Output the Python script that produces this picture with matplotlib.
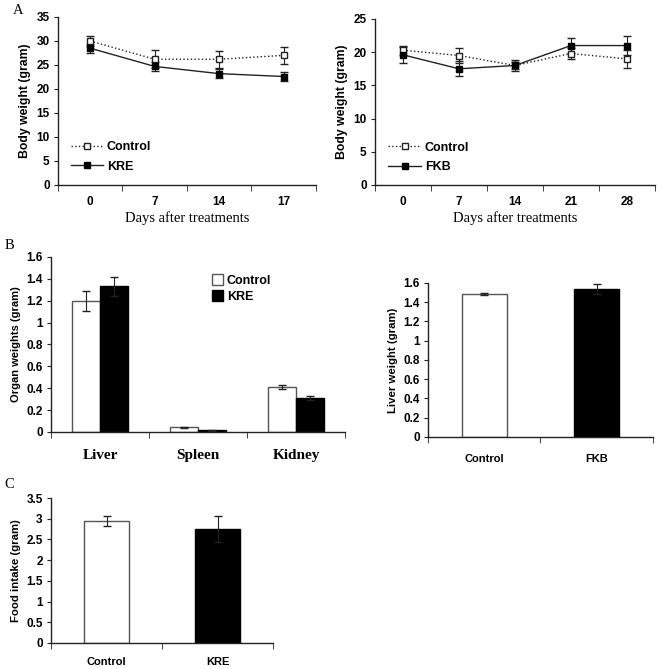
import matplotlib
matplotlib.use('Agg')
import matplotlib.pyplot as plt
from matplotlib.lines import Line2D
import numpy as np

# panel A, left: KRE study
days_kre = ['0', '7', '14', '17']
ctrl_kre_bw = [30.0, 26.2, 26.2, 27.0]
ctrl_kre_err = [1.0, 1.9, 1.8, 1.8]
kre_bw = [28.5, 24.7, 23.2, 22.6]
kre_err = [0.9, 0.9, 0.9, 1.0]

# panel A, right: FKB study
days_fkb = ['0', '7', '14', '21', '28']
ctrl_fkb_bw = [20.3, 19.5, 18.0, 19.8, 19.0]
ctrl_fkb_err = [0.7, 1.1, 0.5, 0.9, 1.4]
fkb_bw = [19.6, 17.5, 18.0, 21.0, 21.0]
fkb_err = [1.2, 1.1, 0.8, 1.1, 1.4]

# panel B, left: organ weights
organs = ['Liver', 'Spleen', 'Kidney']
organ_ctrl = [1.20, 0.045, 0.41]
organ_ctrl_err = [0.09, 0.005, 0.02]
organ_kre = [1.33, 0.015, 0.31]
organ_kre_err = [0.09, 0.003, 0.02]

# panel B, right: liver weight FKB
liver_groups = ['Control', 'FKB']
liver_w = [1.49, 1.54]
liver_err = [0.01, 0.05]

# panel C: food intake
food_groups = ['Control', 'KRE']
food = [2.95, 2.75]
food_err = [0.12, 0.32]

ink = '#222222'
sans = 'Liberation Sans'
serif = 'Liberation Serif'

fig = plt.figure(figsize=(6.61, 6.69), dpi=100)


def style(ax, ncat, ymax, ystep, ylabel, yfmt, ylsize=8.5):
    for s in ['top', 'right']:
        ax.spines[s].set_visible(False)
    for s in ['left', 'bottom']:
        ax.spines[s].set_color(ink)
        ax.spines[s].set_linewidth(1.0)
    ax.set_xlim(-0.5, ncat - 0.5)
    ax.set_ylim(0, ymax)
    yt = np.arange(0, ymax + ystep / 2, ystep)
    ax.set_yticks(yt)
    ax.set_yticklabels([yfmt(v) for v in yt], fontfamily=sans, fontweight='bold', fontsize=8.5)
    ax.set_xticks(np.arange(-0.5, ncat), minor=True)
    ax.tick_params(axis='x', which='minor', length=4, direction='out', color=ink)
    ax.tick_params(axis='x', which='major', length=0)
    ax.tick_params(axis='y', length=3, direction='out', color=ink, pad=3)
    ax.set_ylabel(ylabel, fontfamily=sans, fontweight='bold', fontsize=ylsize, labelpad=4)


def fmt_num(v):
    return ('%.1f' % v).rstrip('0').rstrip('.')


def line_panel(ax, days, c, ce, t, te, tname, ymax):
    x = np.arange(len(days))
    ax.errorbar(x, c, yerr=ce, fmt='s', ls=':', color=ink, mfc='white', mec=ink,
                ms=5, lw=1.0, capsize=3, elinewidth=0.8)
    ax.errorbar(x, t, yerr=te, fmt='s', ls='-', color=ink, mfc='black', mec='black',
                ms=5, lw=1.0, capsize=3, elinewidth=0.8)
    style(ax, len(days), ymax, 5, 'Body weight (gram)', fmt_num, ylsize=8.8)
    ax.set_xticks(x)
    ax.set_xticklabels(days, fontfamily=sans, fontweight='bold', fontsize=8.5)
    ax.tick_params(axis='x', which='major', pad=8)
    ax.set_xlabel('Days after treatments', fontfamily=serif, fontsize=10.5, labelpad=2)
    h = [Line2D([], [], ls=':', color=ink, marker='s', mfc='white', mec=ink, ms=4.5, lw=1.0),
         Line2D([], [], ls='-', color=ink, marker='s', mfc='black', mec='black', ms=4.5, lw=1.0)]
    ax.legend(h, ['Control', tname], loc='upper left', bbox_to_anchor=(0.03, 0.29), frameon=False,
              prop={'family': sans, 'weight': 'bold', 'size': 9},
              handlelength=2.6, labelspacing=0.6, handletextpad=0.3, borderaxespad=0)


axA1 = fig.add_axes([0.0877, 0.7235, 0.390, 0.2511])
line_panel(axA1, days_kre, ctrl_kre_bw, ctrl_kre_err, kre_bw, kre_err, 'KRE', 35)

axA2 = fig.add_axes([0.5673, 0.7235, 0.4236, 0.2481])
line_panel(axA2, days_fkb, ctrl_fkb_bw, ctrl_fkb_err, fkb_bw, fkb_err, 'FKB', 25)

# B left
axB1 = fig.add_axes([0.0772, 0.3543, 0.4448, 0.2616])
x = np.arange(len(organs))
bw = 0.29
axB1.bar(x - bw / 2, organ_ctrl, bw, color='white', edgecolor='#555555', lw=1.0,
         yerr=organ_ctrl_err, capsize=3, error_kw={'elinewidth': 0.8, 'ecolor': ink}, label='Control')
axB1.bar(x + bw / 2, organ_kre, bw, color='black', edgecolor='black', lw=1.0,
         yerr=organ_kre_err, capsize=3, error_kw={'elinewidth': 0.8, 'ecolor': ink}, label='KRE')
style(axB1, len(organs), 1.6, 0.2, 'Organ weights (gram)', fmt_num, ylsize=8)
axB1.set_xticks(x)
axB1.set_xticklabels(organs, fontfamily=serif, fontweight='bold', fontsize=11)
axB1.tick_params(axis='x', which='major', pad=12)
axB1.legend(loc='upper left', bbox_to_anchor=(0.53, 0.93), frameon=False,
            prop={'family': sans, 'weight': 'bold', 'size': 9},
            handlelength=0.9, handleheight=0.9, labelspacing=0.3, handletextpad=0.3, borderaxespad=0)

# B right
axB2 = fig.add_axes([0.6475, 0.3468, 0.3404, 0.2302])
x = np.arange(len(liver_groups))
axB2.bar(x, liver_w, 0.4, color=['white', 'black'], edgecolor=['#555555', 'black'], lw=1.0,
         yerr=liver_err, capsize=3, error_kw={'elinewidth': 0.8, 'ecolor': ink})
style(axB2, len(liver_groups), 1.6, 0.2, 'Liver weight (gram)', fmt_num, ylsize=8.2)
axB2.set_xticks(x)
axB2.set_xticklabels(liver_groups, fontfamily=sans, fontweight='bold', fontsize=8)
axB2.tick_params(axis='x', which='major', pad=12)

# C
axC = fig.add_axes([0.0772, 0.0389, 0.3359, 0.2167])
x = np.arange(len(food_groups))
axC.bar(x, food, 0.4, color=['white', 'black'], edgecolor=['#555555', 'black'], lw=1.0,
        yerr=food_err, capsize=3, error_kw={'elinewidth': 0.8, 'ecolor': ink})
style(axC, len(food_groups), 3.5, 0.5, 'Food intake (gram)', fmt_num, ylsize=8.2)
axC.set_xticks(x)
axC.set_xticklabels(food_groups, fontfamily=sans, fontweight='bold', fontsize=8)
axC.tick_params(axis='x', which='major', pad=10)

# panel letters
fig.text(18 / 661, 1 - 10 / 669, 'A', fontfamily=serif, fontsize=10.5, va='center', ha='center')
fig.text(9 / 661, 1 - 246 / 669, 'B', fontfamily=serif, fontsize=10.5, va='center', ha='center')
fig.text(9 / 661, 1 - 485 / 669, 'C', fontfamily=serif, fontsize=10.5, va='center', ha='center')

fig.savefig('out.png', dpi=100)
